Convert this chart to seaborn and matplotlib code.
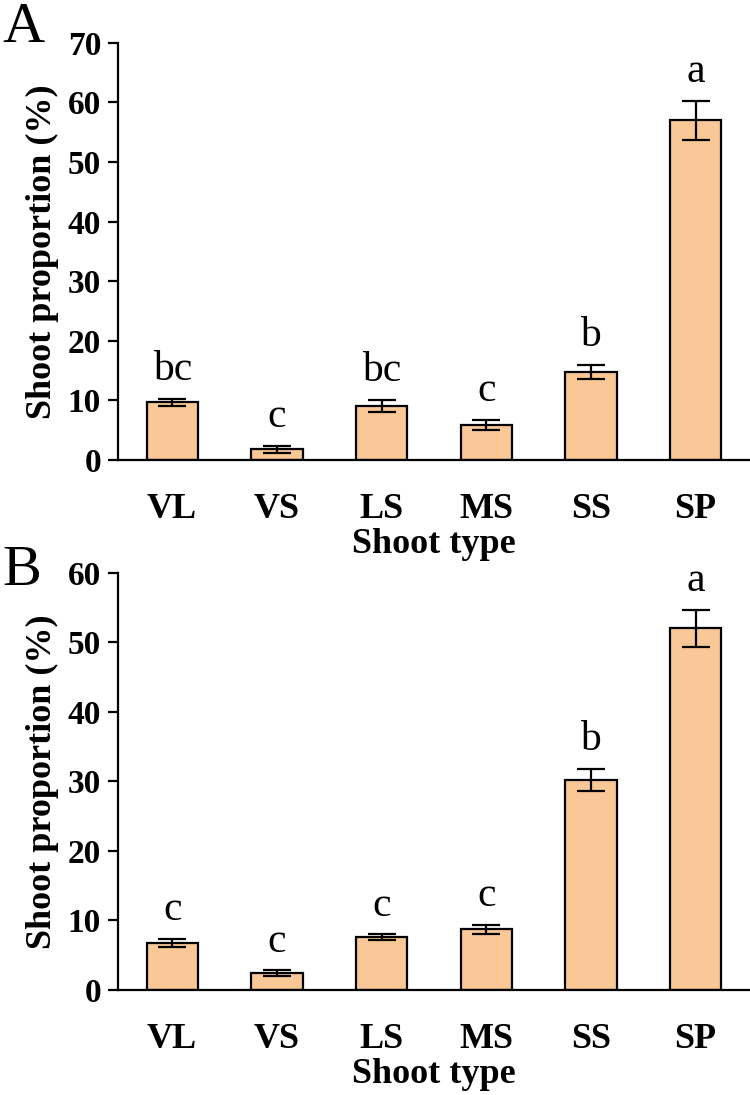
import numpy as np
import pandas as pd
import matplotlib
matplotlib.use("Agg")
import matplotlib.pyplot as plt
import seaborn as sns

# --- Dados ---
shoot_types = ["VL", "VS", "LS", "MS", "SS", "SP"]

prop_a = [9.7, 1.8, 9.1, 5.9, 14.8, 57.0]
err_a = [0.6, 0.6, 1.0, 0.8, 1.2, 3.3]
letters_a = ["bc", "c", "bc", "c", "b", "a"]

prop_b = [6.7, 2.4, 7.6, 8.7, 30.2, 52.0]
err_b = [0.6, 0.4, 0.4, 0.6, 1.6, 2.7]
letters_b = ["c", "c", "c", "c", "b", "a"]

BAR_COLOR = "#F9C896"

sns.set_theme(style="ticks")
plt.rcParams["font.family"] = ["Liberation Serif", "DejaVu Serif"]
plt.rcParams["text.color"] = "black"
plt.rcParams["axes.labelcolor"] = "black"

fig = plt.figure(figsize=(7.5, 10.95), dpi=100)
ax_a = fig.add_axes([0.157, 0.580, 0.843, 0.381])
ax_b = fig.add_axes([0.157, 0.096, 0.843, 0.381])


def draw_panel(ax, vals, errs, letters, ymax):
    df = pd.DataFrame({"type": shoot_types, "prop": vals})
    sns.barplot(data=df, x="type", y="prop", color=BAR_COLOR, width=0.49,
                edgecolor="black", linewidth=1.6, saturation=1, ax=ax)
    xs = np.arange(len(shoot_types))
    ax.errorbar(xs, vals, yerr=errs, fmt="none", ecolor="black",
                elinewidth=1.6, capsize=10, capthick=1.6, zorder=5)
    for x, v, e, lab in zip(xs, vals, errs, letters):
        ax.annotate(lab, (x, v + e), xytext=(0, 7), textcoords="offset points",
                    ha="center", va="bottom", fontsize=30, color="black")
    ax.set_xlim(-0.52, 5.52)
    ax.set_ylim(0, ymax)
    ax.set_yticks(np.arange(0, ymax + 1, 10))
    ax.spines["top"].set_visible(False)
    ax.spines["right"].set_visible(False)
    for s in ["left", "bottom"]:
        ax.spines[s].set_linewidth(1.6)
        ax.spines[s].set_color("black")
    ax.tick_params(axis="y", length=7, width=1.6, labelsize=24, pad=5,
                   color="black", labelcolor="black")
    ax.tick_params(axis="x", length=0, labelsize=26, pad=24, labelcolor="black")
    for t in ax.get_xticklabels() + ax.get_yticklabels():
        t.set_fontweight("bold")
    ax.set_xlabel("Shoot type", fontsize=26, fontweight="bold", labelpad=1)
    ax.set_ylabel("Shoot proportion (%)", fontsize=26, fontweight="bold",
                  labelpad=6)


draw_panel(ax_a, prop_a, err_a, letters_a, 70)
draw_panel(ax_b, prop_b, err_b, letters_b, 60)

fig.text(0.003, 0.998, "A", fontsize=42, ha="left", va="top")
fig.text(0.003, 0.502, "B", fontsize=42, ha="left", va="top")

fig.savefig("out.png", dpi=100)
